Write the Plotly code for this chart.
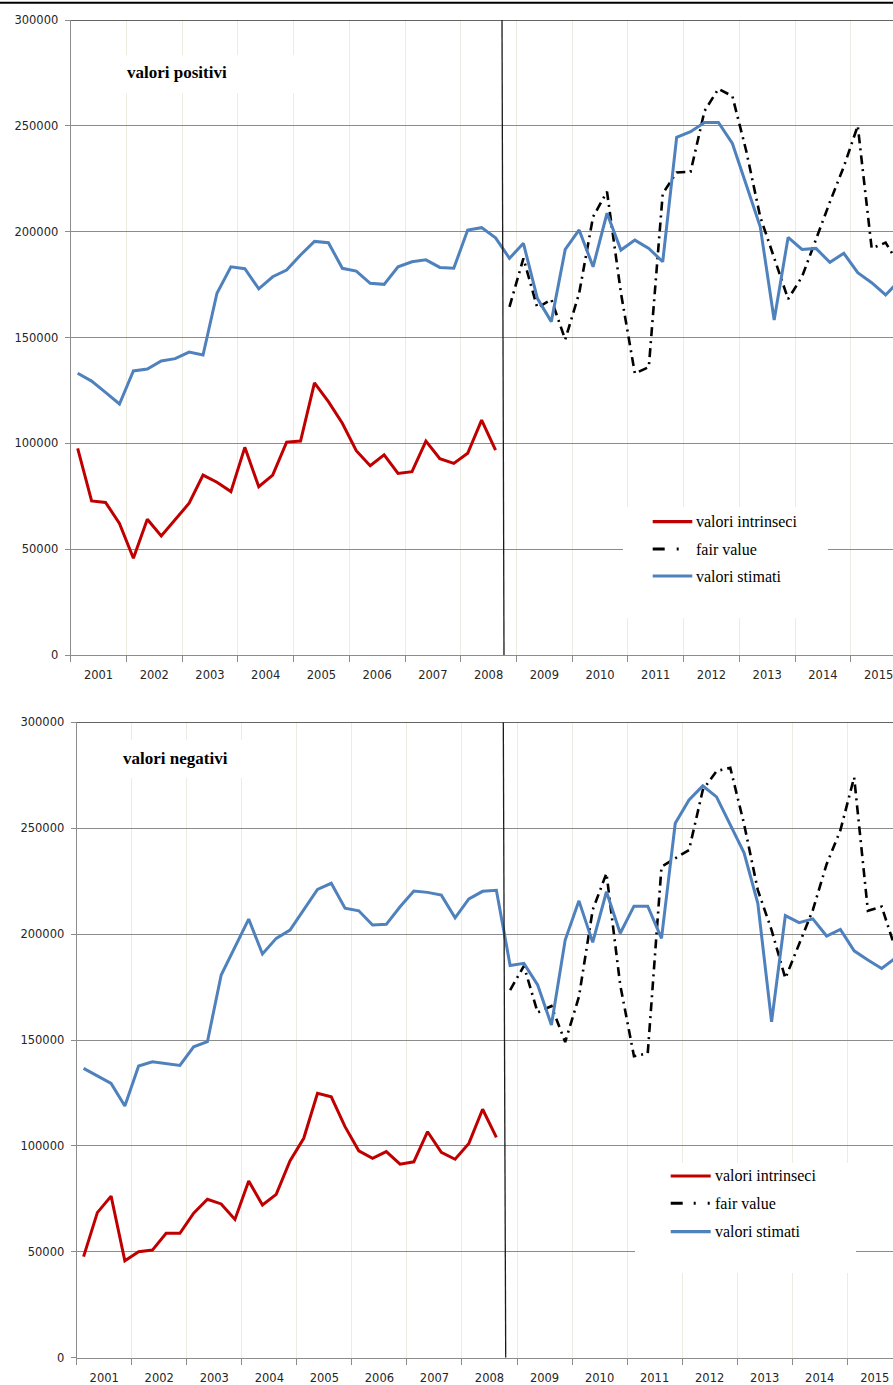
import numpy as np
import plotly.graph_objects as go

# ---------------- data ----------------
years = [str(y) for y in range(2001, 2016)]
n_q = 60  # quarters 2001Q1 .. 2015Q4
quarters = list(range(n_q))
fair_start = 31  # 2008Q4

# top panel: valori positivi
pos_intrinseci = [97600, 72800, 72100, 62200, 45700, 64100, 56200, 63800, 71700, 85000,
                  81600, 77200, 98100, 79500, 85000, 100600, 101100, 128600, 119700, 109500,
                  96500, 89400, 94600, 85800, 86600, 101100, 92700, 90500, 95300, 111000, 96800]
pos_stimati = [133100, 129400, 124100, 118600, 134200, 135100, 138900, 140000, 143100, 141700,
               170900, 183400, 182500, 173000, 178700, 181900, 189000, 195400, 194800, 182700,
               181400, 175600, 175100, 183400, 185800, 186700, 183100, 182700, 200800, 201900,
               197100, 187400, 194500, 168500, 157500, 191600, 200800, 183400, 208700, 191300,
               196000, 192100, 185800, 244600, 247200, 251600, 251600, 241700, 222000, 202300,
               158300, 197300, 191600, 192100, 185500, 189800, 180600, 175900, 170100, 177000]
pos_fair = [164500, 187400, 164000, 168000, 149000, 170900, 207000, 218900, 171000, 133000,
            136000, 218000, 228000, 228300, 257000, 267500, 264000, 238000, 207000, 188000,
            168200, 178700, 196500, 214000, 230700, 250000, 192100, 194800, 184000]

# bottom panel: valori negativi
neg_intrinseci = [47700, 68500, 76300, 45800, 50000, 50800, 58700, 58700, 68200, 74800,
                  72600, 65300, 83400, 72100, 77100, 92900, 103600, 124800, 123200, 109100,
                  97700, 94100, 97300, 91400, 92500, 106700, 97000, 93700, 101200, 117300, 104000]
neg_stimati = [136600, 133100, 129500, 118800, 137700, 139700, 139000, 138000, 146800, 149200,
               180700, 194000, 207100, 190600, 198000, 201900, 211400, 221100, 224000, 212200,
               211000, 204300, 204600, 212900, 220300, 219700, 218400, 207700, 216600, 220200,
               220700, 185200, 186200, 176000, 157100, 197200, 215700, 196100, 220000, 200400,
               213200, 213200, 198000, 252300, 263300, 270000, 264800, 251500, 238400, 214500,
               158600, 208700, 205400, 207200, 199100, 202200, 192100, 187800, 183800, 188700]
neg_fair = [173600, 185000, 163000, 166000, 149000, 170400, 211400, 228700, 176000, 142300,
            143700, 231800, 235800, 239700, 268000, 277000, 278500, 252000, 220800, 201900,
            179100, 194800, 211400, 233000, 249000, 274000, 211000, 213000, 193000]

series_names = ["valori intrinseci", "fair value", "valori stimati"]
titles = ["valori positivi", "valori negativi"]

# ---------------- styling ----------------
W, H = 893, 1385
RED = "#C00000"
BLUE = "#4F81BD"
GRID_H = "#8C8C8C"
GRID_V = "#EEECE1"
FAIR_DASH = "9px,5px,2px,5px"
TICKFONT = dict(family="DejaVu Sans", size=11.5, color="#262626")
SERIF = "Liberation Serif"

# panel geometry in pixels: (left, top, bottom, quarter width)
panels = [
    dict(left=70.7, top=20.0, bottom=655.0, qw=13.93),
    dict(left=76.7, top=722.3, bottom=1357.7, qw=13.76),
]


def px2x(p, panel):
    return (p - panel["left"]) / panel["qw"] - 0.5


def px2y(p, panel):
    return (panel["bottom"] - p) / (panel["bottom"] - panel["top"]) * 300000


fig = go.Figure()

data_sets = [
    (pos_intrinseci, pos_fair, pos_stimati),
    (neg_intrinseci, neg_fair, neg_stimati),
]

for k, (intr, fair, stim) in enumerate(data_sets):
    xa = "x" if k == 0 else "x2"
    ya = "y" if k == 0 else "y2"
    fig.add_trace(go.Scatter(x=quarters[:len(intr)], y=intr, mode="lines", name=series_names[0],
                             line=dict(color=RED, width=3), xaxis=xa, yaxis=ya, showlegend=False))
    fig.add_trace(go.Scatter(x=quarters[fair_start:fair_start + len(fair)], y=fair, mode="lines",
                             name=series_names[1],
                             line=dict(color="black", width=2.6, dash=FAIR_DASH),
                             xaxis=xa, yaxis=ya, showlegend=False))
    fig.add_trace(go.Scatter(x=quarters[:len(stim)], y=stim, mode="lines", name=series_names[2],
                             line=dict(color=BLUE, width=3), xaxis=xa, yaxis=ya, showlegend=False))

year_centers = [4 * i + 1.5 for i in range(len(years))]
year_bounds = [4 * i - 0.5 for i in range(len(years) + 1)]

shapes = []
annotations = []

for k, panel in enumerate(panels):
    sfx = "" if k == 0 else "2"
    xr = [-0.5, px2x(W, panel)]
    dom_x = [panel["left"] / W, 1.0]
    dom_y = [(H - panel["bottom"]) / H, (H - panel["top"]) / H]
    fig.layout["xaxis" + sfx] = dict(
        domain=dom_x, range=xr, anchor="y" + sfx,
        tickmode="array", tickvals=year_centers, ticktext=years,
        ticks="outside", ticklen=9, tickcolor="rgba(0,0,0,0)",
        ticklabeloverflow="allow",
        showgrid=False, zeroline=False,
        showline=True, linecolor=GRID_H, linewidth=1,
        tickfont=TICKFONT,
        minor=dict(tickmode="array", tickvals=year_bounds, ticks="outside", ticklen=6,
                   tickcolor=GRID_H, showgrid=True, gridcolor=GRID_V, gridwidth=1),
        fixedrange=True,
    )
    fig.layout["yaxis" + sfx] = dict(
        domain=dom_y, range=[0, 300000], anchor="x" + sfx,
        tickmode="linear", tick0=0, dtick=50000, tickformat="d",
        ticks="outside", ticklen=5, tickcolor=GRID_H,
        showgrid=True, gridcolor=GRID_H, gridwidth=1, zeroline=False,
        showline=True, linecolor=GRID_H, linewidth=1.2,
        tickfont=TICKFONT, ticklabelstandoff=4,
        fixedrange=True,
    )
    xref, yref = "x" + sfx, "y" + sfx

    # darker top border of the plot area
    shapes.append(dict(type="line", xref=xref, yref=yref, x0=xr[0], x1=xr[1],
                       y0=300000, y1=300000, line=dict(color="#303030", width=1.3), layer="above"))

    # separator line (end of intrinsic values)
    sep = [(502.0, 504.0), (503.3, 505.7)][k]
    shapes.append(dict(type="line", xref=xref, yref=yref,
                       x0=px2x(sep[0], panel), y0=300000, x1=px2x(sep[1], panel), y1=0,
                       line=dict(color="#1a1a1a", width=1.3), layer="above"))

    # white boxes behind title and legend (hide gridlines)
    tbox = [(110, 55, 300, 93), (115, 740, 290, 778)][k]
    lbox = [(623, 507, 828, 618), (635, 1163, 856, 1273)][k]
    for (a, b, c, d) in (tbox, lbox):
        shapes.append(dict(type="rect", xref=xref, yref=yref,
                           x0=px2x(a, panel), x1=px2x(c, panel),
                           y0=px2y(d, panel), y1=px2y(b, panel),
                           fillcolor="white", line=dict(width=0), layer="between"))

    # title
    tx, ty = [(125, 72.7), (120.5, 759)][k]
    annotations.append(dict(xref=xref, yref=yref, x=px2x(tx, panel), y=px2y(ty, panel),
                            text="<b>" + titles[k] + "</b>", showarrow=False,
                            xanchor="left", yanchor="middle",
                            font=dict(family=SERIF, size=17, color="black")))

    # legend
    rows = [(521.7, 549.0, 576.0), (1176.0, 1203.3, 1231.7)][k]
    lx0, lx1, tx0 = [(652.7, 692.3, 694.0), (670.7, 710.7, 712.5)][k]
    fair_end = [680.0, 712.0][k]
    fair_pat = ["12px,12px,2px,20px", "12px,11px,2px,12px,2px,20px"][k]
    styles = [dict(color=RED, width=3.2), dict(color="black", width=3, dash=fair_pat),
              dict(color=BLUE, width=3.2)]
    for j, name in enumerate(series_names):
        yy = px2y(rows[j], panel)
        shapes.append(dict(type="line", xref=xref, yref=yref,
                           x0=px2x(lx0, panel), x1=px2x(fair_end if j == 1 else lx1, panel),
                           y0=yy, y1=yy, line=styles[j], layer="above"))
        annotations.append(dict(xref=xref, yref=yref, x=px2x(tx0, panel), y=yy,
                                text=name, showarrow=False, xanchor="left", yanchor="middle",
                                font=dict(family=SERIF, size=16, color="black")))

# thick rule at the very top of the page
shapes.append(dict(type="line", xref="paper", yref="paper", x0=0, x1=1,
                   y0=1 - 2.7 / H, y1=1 - 2.7 / H, line=dict(color="black", width=2)))

fig.update_layout(
    width=W, height=H, template="none",
    margin=dict(l=0, r=0, t=0, b=0),
    paper_bgcolor="white", plot_bgcolor="white",
    showlegend=False,
    shapes=shapes, annotations=annotations,
)

fig.write_html("out.html",
               config={"displayModeBar": False},
               post_script="document.body.style.margin='0px';"
                           "document.body.style.overflow='hidden';")
